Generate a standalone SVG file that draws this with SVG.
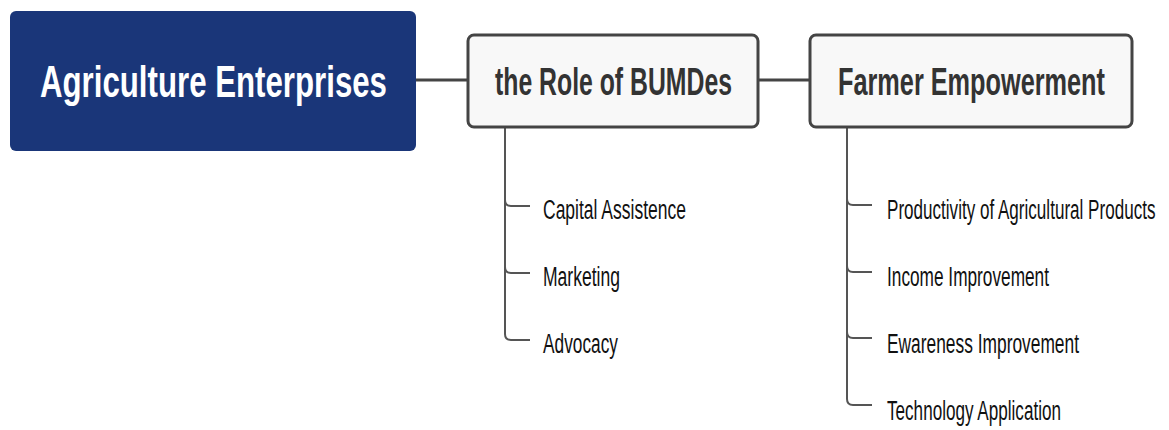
<svg xmlns="http://www.w3.org/2000/svg" width="1169" height="430" viewBox="0 0 1169 430">
<style>
.t{font-family:"Liberation Sans",Arial,sans-serif}
.main{fill:#f8f8f8;stroke:#444;stroke-width:3}
.mt{font-size:39px;font-weight:bold;fill:#333}
.sub{font-size:28px;fill:#111}
.c{fill:none;stroke:#444;stroke-width:3}
.b{fill:none;stroke:#555;stroke-width:2}
</style>
<rect width="1169" height="430" fill="#fff"/>
<g id="connectors">
<line class="c" x1="416" y1="80" x2="468" y2="80"/>
<line class="c" x1="758" y1="80" x2="810" y2="80"/>
<path class="b" d="M505,127 V334 Q505,340 511,340 H530"/>
<path class="b" d="M505,200 Q505,206 511,206 H530"/>
<path class="b" d="M505,267 Q505,273 511,273 H530"/>
<path class="b" d="M847,127 V399 Q847,405 853,405 H872"/>
<path class="b" d="M847,199 Q847,205 853,205 H872"/>
<path class="b" d="M847,266 Q847,272 853,272 H872"/>
<path class="b" d="M847,332 Q847,338 853,338 H872"/>
</g>
<g id="root">
<rect x="10" y="11" width="406" height="140" rx="6" fill="#1a3679"/>
<text class="t" transform="translate(40,97) scale(0.71,1)" font-size="44" font-weight="bold" fill="#fff" textLength="488.7" lengthAdjust="spacingAndGlyphs">Agriculture Enterprises</text>
</g>
<g id="role">
<rect class="main" x="468" y="35" width="290" height="92" rx="6"/>
<text class="t mt" transform="translate(495,95) scale(0.68,1)" textLength="348.5" lengthAdjust="spacingAndGlyphs">the Role of BUMDes</text>
</g>
<g id="farmer">
<rect class="main" x="810" y="35" width="322" height="92" rx="6"/>
<text class="t mt" transform="translate(838,95) scale(0.68,1)" textLength="392.6" lengthAdjust="spacingAndGlyphs">Farmer Empowerment</text>
</g>
<g id="capital"><text class="t sub" transform="translate(543,219) scale(0.65,1)" textLength="220" lengthAdjust="spacingAndGlyphs">Capital Assistence</text></g>
<g id="marketing"><text class="t sub" transform="translate(543,286) scale(0.65,1)" textLength="118.5" lengthAdjust="spacingAndGlyphs">Marketing</text></g>
<g id="advocacy"><text class="t sub" transform="translate(543,353) scale(0.65,1)" textLength="115.4" lengthAdjust="spacingAndGlyphs">Advocacy</text></g>
<g id="productivity"><text class="t sub" transform="translate(887,219) scale(0.65,1)" textLength="413" lengthAdjust="spacingAndGlyphs">Productivity of Agricultural Products</text></g>
<g id="income"><text class="t sub" transform="translate(887,286) scale(0.65,1)" textLength="249.2" lengthAdjust="spacingAndGlyphs">Income Improvement</text></g>
<g id="ewareness"><text class="t sub" transform="translate(887,353) scale(0.65,1)" textLength="295.4" lengthAdjust="spacingAndGlyphs">Ewareness Improvement</text></g>
<g id="technology"><text class="t sub" transform="translate(887,420) scale(0.65,1)" textLength="267.7" lengthAdjust="spacingAndGlyphs">Technology Application</text></g>
</svg>
